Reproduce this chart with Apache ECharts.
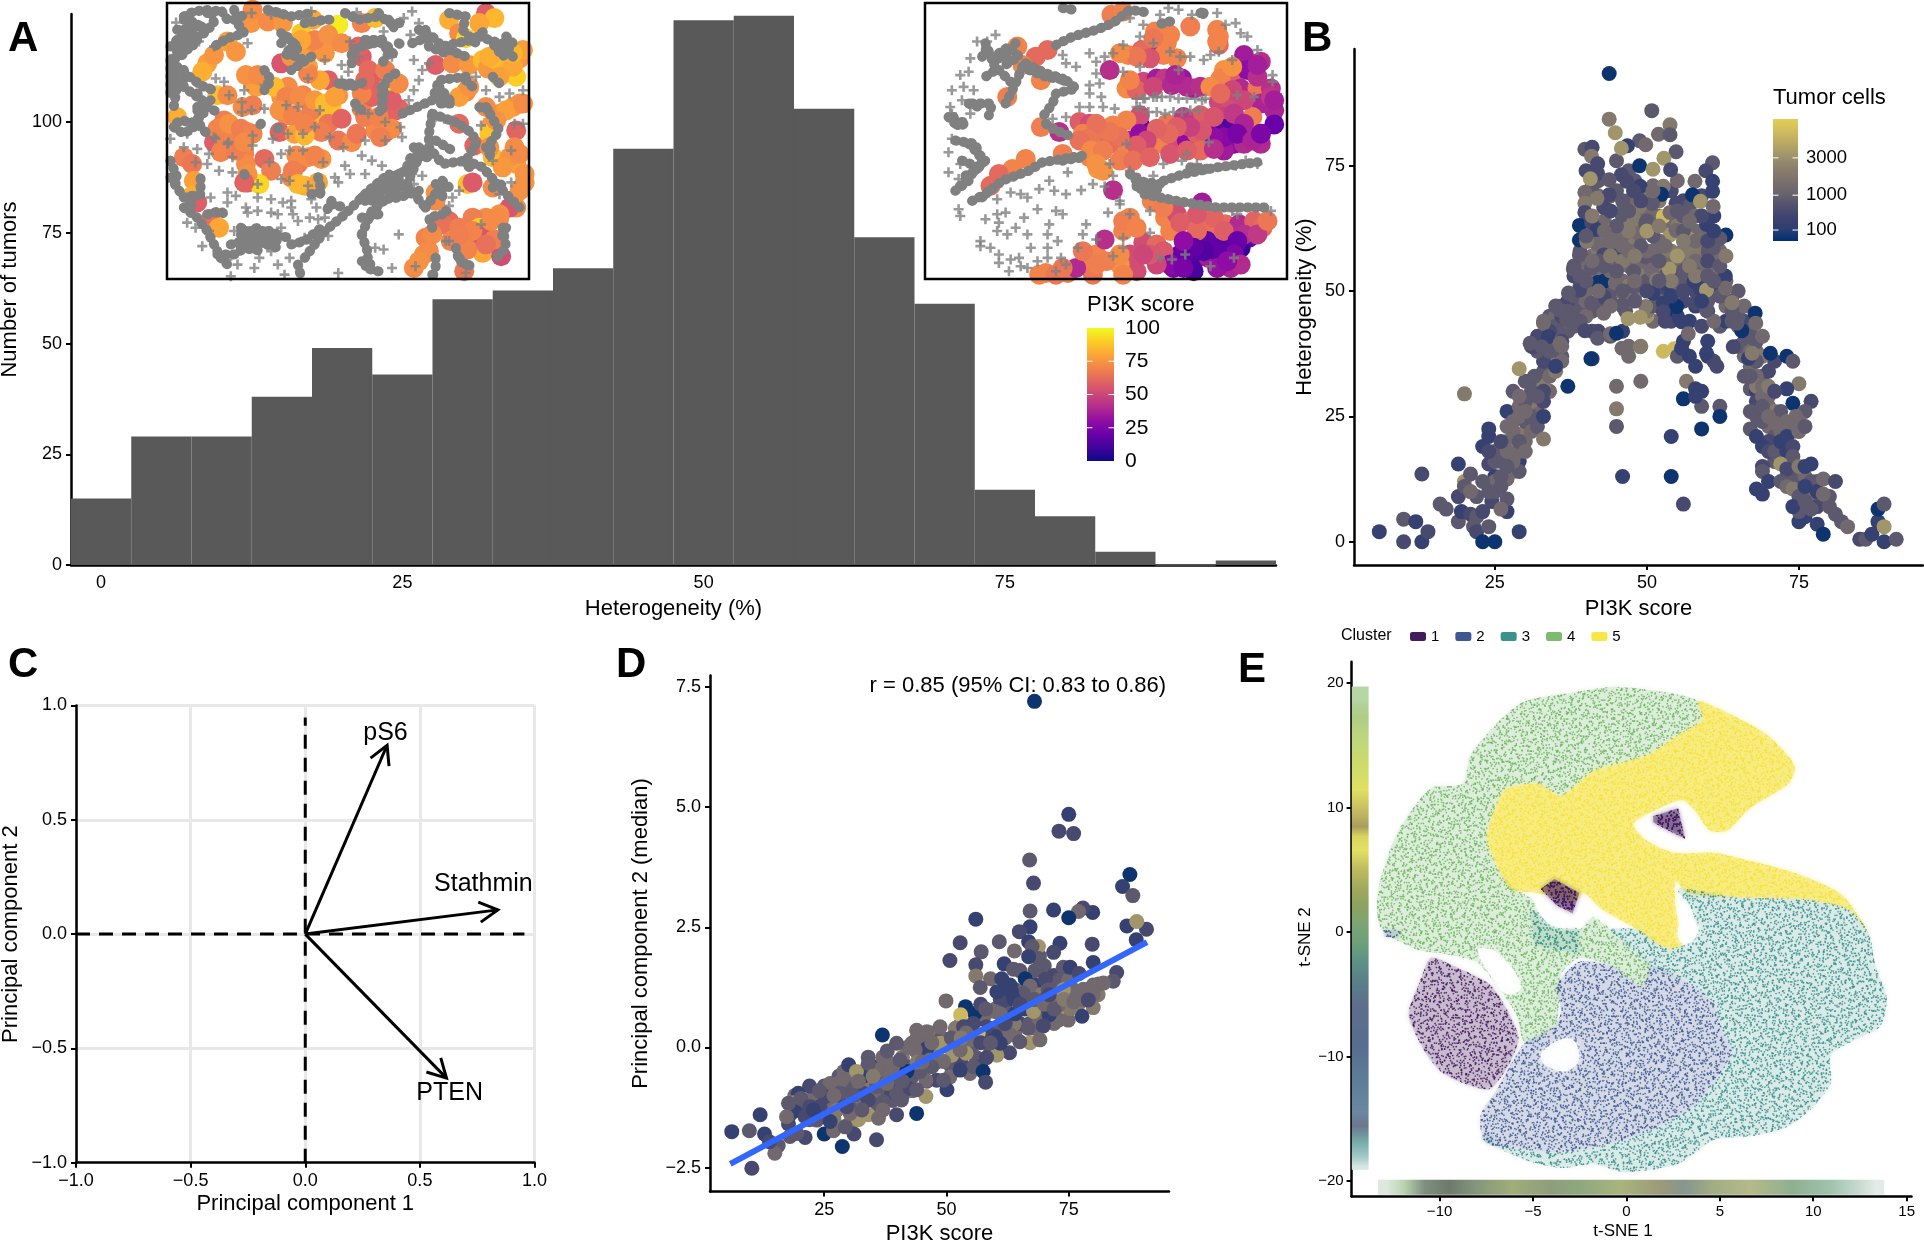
<!DOCTYPE html>
<html><head><meta charset="utf-8">
<style>html,body{margin:0;padding:0;background:#fff}#c{width:1924px;height:1244px}</style>
<script src="https://cdn.jsdelivr.net/npm/echarts@6/dist/echarts.min.js"></script>
</head><body><div id="c"></div>
<script>
// ---- Panel A histogram
const histBins=[0,5,10,15,20,25,30,35,40,45,50,55,60,65,70,75,80,85,90,95];
const histCounts=[15,29,29,38,49,43,60,62,67,94,123,124,103,74,59,17,11,3,0,1];
const countTicks=[0,25,50,75,100];
// ---- Inset 1 (hand-read, spatial units of the picture)
const inset1Chains=[
[[60,50],[90,35],[140,30],[150,70],[120,100],[80,120],[40,150],[30,200],[40,260],[30,320]],
[[210,30],[220,70],[240,100],[190,115],[150,140]],[[100,120],[70,130],[60,110]],
[[40,200],[90,240],[120,260],[150,270]],[[100,320],[120,340],[80,370],[60,360],[30,370]],
[[140,300],[100,330],[110,380],[130,400]],[[350,130],[370,110],[400,150],[380,170],[360,160],[400,130]],
[[310,30],[380,50],[440,40]],[[420,70],[480,60],[510,60]],[[640,40],[670,70],[720,70]],
[[420,770],[480,690],[540,640],[610,570],[670,520],[720,560],[760,470],[740,430]],
[[590,700],[620,630],[680,580],[720,550],[780,620]],[[400,790],[410,830]],[[590,700],[610,760],[600,800],[640,810]],
[[230,700],[280,680],[340,720],[260,730],[230,720]],[[160,760],[210,760],[260,730]],
[[60,620],[100,650],[130,690],[160,750]],[[20,530],[60,590],[110,580],[110,530]],
[[800,340],[880,370],[920,400],[930,430],[900,480],[830,490],[790,440],[790,400],[800,340]],
[[820,260],[860,310],[820,310],[820,260]],[[900,230],[820,240],[800,300],[710,340]],
[[760,90],[800,110],[830,140],[870,130],[920,120],[960,90]],[[850,40],[900,50],[890,90],[930,130]],
[[1020,110],[1040,130],[1010,170],[980,130]],[[650,120],[670,160],[650,190]],[[690,220],[660,240],[650,330]],
[[900,480],[950,500],[1020,580],[1060,620]],[[780,620],[830,550],[830,590]],[[1010,680],[1020,740],[990,770]],
[[880,770],[900,790]],[[980,560],[1010,550]],[[960,320],[1000,390],[970,430],[980,460]],[[530,250],[570,250]],
[[500,610],[540,620]],[[460,530],[470,570],[460,590]],[[240,520],[250,540]],[[600,120],[650,120]],
[[290,370],[285,375]],[[340,385],[345,380]],[[515,480],[515,482]],[[700,130],[720,140]],
[[20,140],[60,100],[100,110],[70,150],[40,180]],[[60,60],[100,70],[130,110]],[[130,40],[170,30],[190,60]],[[210,60],[250,40]],
[[20,180],[20,280]],[[60,210],[60,260],[100,290]],[[100,280],[130,320],[170,340]],[[30,380],[60,400],[90,380]],[[20,480],[40,530],[30,570]],[[70,590],[90,630]],
[[350,100],[400,140],[370,160],[420,180]],[[540,40],[580,60],[640,50]],[[670,60],[690,90]],[[780,90],[790,140],[840,160]],[[740,130],[790,110]],
[[560,190],[560,150],[620,130]],[[600,130],[660,130],[690,170]],[[650,260],[650,320],[640,340]],[[520,250],[560,260],[610,240]],[[570,310],[600,340]],[[440,170],[380,210]],[[300,210],[320,240],[300,270]],[[130,640],[170,630],[190,650]],
[[230,680],[290,720],[350,690]],[[200,730],[300,700],[380,710]],[[380,730],[420,720],[470,680]],[[170,770],[200,800]],[[500,600],[480,640]],[[440,580],[480,570]],
[[590,590],[660,540],[720,510],[740,460]],[[620,600],[700,590],[760,570]],[[590,650],[640,640]],[[590,780],[620,790]],[[800,680],[790,650],[830,640]],[[840,630],[860,640]],[[1020,680],[1000,720]],[[870,740],[880,780],[930,800]],[[810,770],[810,800]],[[800,820],[820,820]],
[[810,550],[840,560]],[[830,540],[850,560]],[[910,500],[880,470]],[[960,440],[980,480]],[[810,420],[860,450]],[[900,240],[930,270]],[[980,230],[1010,260]],[[1010,130],[1040,170]],[[850,150],[900,170]],[[940,110],[1000,130]],[[940,320],[970,330]],
[[240,690],[330,690]],[[240,710],[340,740]],[[230,740],[300,750]],[[600,600],[690,550]],[[640,580],[710,530]],[[700,520],[740,500]],[[40,90],[120,80]],[[40,120],[100,140]],[[760,440],[790,470],[740,470]]];
const inset1Plus=[[37,68],[262,40],[320,45],[345,40],[440,35],[575,38],[715,55],[740,35],[760,70],[655,95],[735,105],[105,125],[150,140],[30,165],[250,130],[480,180],[555,125],[530,195],[550,215],[680,170],[745,180],[790,190],[770,210],[760,240],[745,270],[730,300],[930,230],[960,270],[1000,290],[1030,280],[1070,270],[990,240],[155,235],[180,245],[110,260],[135,265],[240,270],[300,255],[430,235],[530,240],[233,305],[233,335],[262,330],[300,325],[400,320],[465,330],[365,315],[575,330],[610,340],[660,365],[705,380],[710,410],[800,360],[835,355],[860,360],[945,375],[1045,370],[1070,370],[20,415],[70,400],[155,415],[190,430],[265,405],[265,435],[325,415],[370,400],[415,400],[450,380],[495,410],[535,440],[600,420],[660,420],[350,460],[375,450],[415,450],[100,445],[60,440],[135,460],[205,470],[205,515],[165,510],[130,490],[95,485],[315,485],[280,550],[350,535],[375,540],[430,555],[475,485],[510,530],[540,495],[590,465],[620,480],[650,495],[555,520],[520,545],[600,520],[740,520],[770,525],[745,550],[860,590],[880,570],[850,615],[980,480],[1035,450],[1035,545],[1000,580],[90,595],[140,590],[190,575],[215,585],[190,605],[245,620],[280,590],[320,595],[355,605],[380,600],[380,620],[440,595],[455,620],[435,650],[460,655],[480,650],[340,640],[320,635],[280,630],[250,635],[70,665],[95,680],[115,735],[135,690],[210,690],[350,680],[385,640],[400,660],[190,775],[220,790],[270,800],[285,770],[320,750],[375,770],[340,790],[420,710],[450,720],[490,705],[630,740],[655,745],[680,800],[700,700],[520,815],[360,820],[200,825],[330,725],[840,720],[850,720],[750,795],[945,670],[900,815],[195,285],[580,170],[150,410],[193,425]];
const inset1Cells=[[130,190,78],[115,215,82],[150,165,75],[190,125,78],[215,155,75],[260,70,75],[265,30,72],[310,65,72],[355,70,75],[410,100,88],[445,60,80],[520,75,97],[590,70,70],[630,55,85],[590,170,58],[610,210,62],[630,250,58],[665,265,90],[680,235,68],[690,330,57],[670,340,60],[640,375,68],[660,395,62],[630,390,72],[590,325,70],[350,190,55],[490,240,58],[440,150,72],[480,160,75],[430,200,78],[490,130,75],[380,170,74],[370,260,72],[350,290,74],[365,345,72],[415,285,70],[430,360,72],[465,335,85],[500,320,87],[520,285,74],[490,370,66],[530,355,60],[470,395,68],[520,420,66],[560,425,72],[575,400,66],[345,395,60],[390,400,78],[420,405,84],[260,235,75],[275,260,78],[160,285,86],[190,285,72],[235,320,72],[265,315,68],[180,360,68],[210,390,70],[250,395,75],[150,425,58],[170,455,70],[240,460,70],[245,490,72],[220,430,70],[60,470,68],[85,490,66],[90,540,78],[85,585,82],[100,605,58],[40,350,82],[300,475,62],[320,510,68],[250,545,58],[285,550,92],[400,490,66],[430,470,72],[470,475,74],[380,530,72],[420,555,82],[140,655,64],[165,680,80],[810,575,74],[810,195,58],[850,60,82],[880,100,72],[900,115,92],[960,40,58],[985,55,84],[940,70,80],[860,190,72],[910,195,76],[950,180,85],[965,205,76],[1010,210,78],[1050,230,90],[1060,175,75],[900,275,72],[880,370,62],[925,435,60],[1040,320,76],[1000,340,74],[975,375,76],[970,400,88],[1050,390,60],[1045,440,72],[980,470,85],[1050,490,78],[1075,545,74],[905,550,86],[920,545,57],[980,560,72],[1050,620,72],[1030,620,55],[1000,640,74],[960,650,72],[920,650,68],[940,680,90],[850,660,62],[830,670,64],[880,680,68],[780,710,70],[775,760,74],[745,800,72],[855,720,70],[910,720,62],[945,700,55],[950,755,80],[1005,765,52],[985,715,68],[895,810,66],
[265,245,78],[245,225,74],[280,225,72],[330,260,85],[365,290,70],[345,330,74],[385,345,70],[405,290,72],[440,330,68],[420,370,70],[450,300,76],[480,310,85],[510,290,78],[465,240,80],[430,220,70],[415,175,78],[450,120,70],[490,105,74],[530,130,72],[410,120,80],[620,290,60],[590,280,70],[600,350,68],[640,350,70],[680,385,72],[645,410,68],[700,325,60],[680,300,58],[580,140,60],[600,240,62],[660,210,68],[700,250,72],[160,385,70],[195,370,74],[230,385,68],[265,400,70],[180,430,70],[215,450,68],[240,425,72],[250,520,74],[240,545,60],[395,465,72],[385,510,68],[450,465,70],[460,545,80],[400,550,84],[990,180,84],[970,170,82],[1040,200,80],[1070,150,78],[1040,160,84],[1000,230,78],[880,290,78],[910,260,74],[1060,310,74],[1020,330,78],[990,360,74],[1070,310,72],[960,320,72],[970,440,74],[1030,470,74],[1060,460,72],[1010,500,76],[1075,520,74],[1060,570,74],[800,700,72],[790,750,72],[760,780,74],[920,690,70],[905,745,70],[960,730,64],[880,700,68],[810,600,72],[1000,650,72],[975,660,72]];
// ---- Inset 2
const inset2Chains=[[[420,25],[450,30]],[[400,135],[450,110],[520,90],[570,70],[620,30],[680,40]],[[830,40],[850,30]],
[[190,130],[210,180],[250,170],[280,130]],[[210,170],[220,210],[190,230]],[[300,200],[280,250],[250,310]],[[150,310],[210,310],[200,345]],
[[320,210],[370,230],[430,240],[460,265],[400,280],[390,310],[360,350]],[[95,350],[110,380],[135,365]],
[[100,420],[160,430],[180,490],[140,530],[100,570]],[[120,480],[170,500]],[[150,600],[190,580],[240,540],[320,510],[360,485],[480,465]],
[[370,370],[400,390],[450,410]],[[710,550],[640,540],[660,580],[760,600],[880,620],[960,620],[1030,620]],
[[720,540],[780,520],[880,500],[1000,485]],[[640,530],[640,570]],
[[965,125],[966,126]],[[770,395],[771,396]],[[655,770],[656,771]],[[930,790],[931,791]],[[560,715],[561,716]],[[1035,675],[1036,676]],[[740,65],[700,75]],[[280,490],[281,491]],[[570,395],[571,396]],[[815,60],[816,61]],
[[230,160],[260,140],[290,170],[240,200]],[[310,190],[370,220],[420,235]],[[400,230],[440,250]],[[80,350],[100,370],[140,360]],[[140,430],[190,480],[160,510],[120,530]],[[100,570],[140,540]],[[180,590],[200,570]],[[420,480],[480,470]],[[620,520],[660,560],[720,570]],[[800,500],[860,505]],[[840,40],[830,60]],[[140,310],[170,320]],[[180,170],[200,130]],[[230,210],[270,250]]];
const inset2Plus=[[640,295],[665,295],[690,290],[715,290],[740,290],[765,295],[790,295],[815,295],[835,300],[650,320],[675,335],[700,335],[725,340],[750,335],[775,335],[800,330],[825,330],[165,125],[195,125],[220,105],[145,175],[140,215],[115,225],[125,260],[90,270],[155,270],[120,300],[85,320],[90,340],[145,340],[90,415],[80,455],[115,490],[80,515],[110,535],[110,625],[115,645],[190,655],[225,640],[250,635],[230,665],[280,680],[255,700],[225,690],[175,720],[175,735],[205,740],[230,760],[230,785],[265,775],[260,810],[290,770],[295,795],[315,800],[325,740],[315,700],[305,650],[345,625],[350,565],[265,575],[295,580],[225,595],[315,590],[380,540],[395,570],[430,580],[475,568],[510,550],[435,515],[545,557],[590,610],[555,635],[400,630],[420,640],[380,670],[375,700],[405,720],[375,740],[375,770],[345,780],[415,770],[430,790],[400,810],[490,670],[480,700],[465,740],[520,715],[600,710],[600,740],[680,695],[570,765],[710,770],[745,775],[785,760],[860,795],[930,770],[420,165],[430,190],[460,200],[500,160],[520,185],[545,170],[600,135],[650,110],[690,130],[570,160],[520,220],[500,255],[530,250],[535,290],[500,280],[470,320],[500,320],[430,350],[390,355],[540,320],[575,325],[600,215],[650,200],[710,45],[735,25],[765,30],[805,45],[880,40],[660,75],[620,55],[905,75],[935,70],[950,100],[970,110],[1000,150],[860,165],[800,170],[770,170],[740,155],[765,210],[840,180],[885,155],[925,180],[1045,225],[1045,245],[990,290],[940,285],[845,295],[700,290],[660,295],[640,320],[610,430],[855,425],[790,460],[775,480],[820,490],[935,495],[965,480],[1000,490],[925,630],[940,640],[1040,630],[620,640],[680,630],[620,510],[560,490],[570,525],[690,525],[720,490],[590,600]];
const inset2Cells=[[565,45,68],[600,35,70],[695,95,70],[740,105,70],[800,80,68],[885,110,70],[885,135,62],[705,130,38],[615,165,70],[655,150,62],[720,165,70],[760,175,70],[680,175,55],[960,165,35],[1010,185,42],[560,210,42],[610,265,72],[660,245,50],[700,235,35],[725,235,45],[775,235,32],[810,265,35],[900,210,74],[925,235,58],[880,255,70],[950,265,40],[1000,265,66],[1040,265,42],[970,210,30],[885,305,50],[920,305,52],[1010,310,38],[1050,330,38],[985,350,68],[900,350,48],[830,345,58],[780,350,45],[730,370,66],[650,375,18],[650,345,52],[610,360,70],[570,375,70],[470,365,58],[500,370,52],[355,380,68],[410,395,42],[480,400,70],[510,425,76],[530,395,66],[560,430,62],[620,420,40],[650,400,30],[610,455,70],[650,460,52],[690,420,66],[720,430,70],[760,420,52],[790,420,30],[820,400,58],[830,450,62],[880,395,22],[905,385,15],[930,430,30],[960,430,40],[1010,400,32],[1050,372,20],[1010,430,40],[900,450,35],[500,470,70],[525,505,76],[310,475,70],[270,505,70],[230,520,62],[205,555,62],[420,460,68],[375,150,62],[340,170,62],[285,140,70],[300,195,70],[355,240,70],[255,290,68],[570,568,42],[835,605,35],[685,600,70],[725,650,70],[760,640,52],[800,660,64],[850,680,64],[905,670,62],[945,670,40],[990,660,60],[1015,680,62],[620,670,70],[600,690,70],[740,690,70],[660,725,52],[975,710,20],[950,740,8],[900,730,15],[850,720,18],[800,720,20],[770,760,20],[820,770,15],[870,770,28],[750,800,25],[810,810,12],[920,800,38],[855,770,35],[700,730,62],[720,750,56],[620,760,52],[640,810,52],[590,790,74],[520,760,70],[490,780,70],[510,820,66],[545,715,42],[435,815,66],[370,815,70],[460,800,40],
[730,130,70],[690,115,66],[640,170,66],[590,160,72],[880,90,70],[880,125,70],[640,270,60],[620,240,70],[690,260,50],[745,255,40],[790,260,40],[755,225,38],[830,260,42],[890,235,70],[925,200,74],[860,260,72],[960,300,50],[1000,230,42],[1040,290,45],[1050,300,36],[1000,195,36],[925,270,50],[890,280,62],[870,350,55],[930,340,45],[960,370,38],[900,410,28],[940,400,24],[985,420,38],[1010,400,25],[870,410,30],[870,445,42],[835,390,55],[800,380,48],[760,380,58],[735,400,62],[700,385,60],[670,420,50],[640,435,58],[590,410,64],[560,395,66],[520,370,64],[495,415,66],[470,420,64],[505,450,72],[540,450,68],[590,480,68],[630,480,64],[680,470,60],[740,460,55],[790,450,58],[520,490,74],[540,510,74],[620,650,70],[600,660,68],[640,680,70],[720,620,68],[770,665,58],[820,690,62],[870,650,60],[900,690,58],[820,640,56],[960,700,42],[1000,700,45],[1030,660,66],[940,720,20],[930,760,25],[880,750,18],[840,750,14],[810,740,18],[780,720,30],[740,790,28],[780,800,24],[880,800,32],[950,790,40],[910,780,30],[700,790,50],[680,760,56],[660,760,50],[600,820,70],[520,790,68],[480,750,66],[550,780,68],[590,760,72],[420,800,66],[350,820,70],[400,820,66]];
const plasma=['#0D0887','#41049D','#6A00A8','#8F0DA4','#B12A90','#CC4778','#E16462','#F2844B','#FCA636','#FCCE25','#F0F921'];
const pi3kLegendTicks=[0,25,50,75,100];
// ---- Panel B: [PI3K score, heterogeneity, tumor-cell level index]
const tumorLevels=[30,200,450,800,1300,2000,3200,5000];
const tumorLegendTicks=[100,1000,3000];
const cividisLike=['#00306F','#2D3E70','#3F446F','#55526D','#6B656D','#7C726C','#8B806C','#A0946B','#B9A864','#D0BC5E','#E3CE55'];
const scoreTicks=[25,50,75];
const heteroTicks=[0,25,50,75];
const panelB=[[6,2,1],[10,4.5,3],[10,0,2],[12,4,1],[13,0,1],[14,2,2],[13,13.5,2],[16,7.5,3],[17,6.5,3],[19,4,3],[19.5,6,1],[19,9,2],[20,12,6],[19,15.5,1],[21,13.5,3],[20,11,3],[21,5.5,2],[22,5,3],[21.5,3,3],[22,2,2],[23,0,0],[25,0,0],[24,3,3],[23,6,2],[24.5,8,2],[25,10,3],[27,6,1],[27,8.5,3],[26,6.5,4],[29,2,1],[23,19,1],[24,15.5,2],[25,16,3],[25,13,1],[26,16,3],[28,14,5],[29,16,1],[29,14,3],[27,12.5,4],[25,12,4],[24,21,1],[24,22.5,1],[20,29.5,5],[27,26,1],
[27,20,4],[28,18,5],[28,24,4],[30,22,5],[30,24,3],[31,27,4],[32,27,4],[32,31,3],[33,33,4],[34,30,4],[34,35,5],[35,37,5],[35,39,4],[36,42,3],[36,37,3],[37,42,3],[37,44,4],[38,46,3],[38,43,3],[39,47,3],[39,49,4],[34,45,3],[35,45,4],[36,47,3],[37,48,2],[30,20,4],[29,18,4],[28,16,4],[27,15,3],[26,13,3],[26,11,3],[25,18,3],[24,18,2],[22,9,3],[21,10,4],[23,12,3],[24,10,3],[31,28,5],[32,33,4],[33,31,5],[33,34,3],[36,36,4],[30,32,3],[29,27,4],[27,23,4],
[28,22,4],[29,20,3],[30,18,4],[27,18,4],[26,20,2],[29,25,4],[31,22,4],[31,25,3],[32,23,3],[33,25,1],[33,20.5,5],[31,30,3],[30,28,3],[28,30,3],[29,29,4],[30,26,4],[33,28,2],[33,30,2],[32,29,3],[34,33,4],[33,36,2],[32,38,3],[29,34.5,6],[31.5,33,3],[35,34,5],[37,31,0],[35,35,1],[34,38,3],[33,40,3],[32,41,2],[31,39,3],[35,43,3],[34,42,2],[33,44,4],[36,45,2],[35,47,3],[37,46,3],[38,49,3],[36,40,2],[36,39,4],[41,36.5,1],[45,31,4],[45,26.5,5],[45,23,3],[49,32,4],[54,21,1],[59,22.5,0],[46,13,1],[54,13,0],[56,7.5,2],[47,37,4],[47,39,4],[49,39,5],[54.5,38.5,7],[42,42,2],[44,41,3],[46,42,1],[46.5,46,3],[56,40,1],[55,37,3],[57,37,1],[58,35,1],[60,37,1],[60,40,1],[61,36,2],[61.5,35,2],[56.5,32,5],[58,30.5,1],[59,30,1],[59,27,3],[56,28.5,0],[62,27,3],[62,25,0],[58,29,1],[62,43,3],[63,44,1],[67,30.5,3],[68,30,1],[68,28,2],[69,33,3],[70,34,2],[71,36,2],[73,37,0],[74,36,3],[75,31.5,5],[73,30.5,1],[74,27.6,0],[77,28,2],[76,26,3],[74.5,25,4],
[63,47,4],[64,44,3],[65,43,4],[66,40,3],[66,37,4],[67,35,4],[68,33,4],[68,31,5],[69,31,4],[69,29,4],[70,29,4],[70,27,4],[70,23,4],[71,26,5],[71,21,3],[72,22,4],[72,19,3],[71,16,3],[72,17,4],[73,16,5],[73,13,3],[74,13,3],[75,12,3],[76,13,4],[76,10,3],[77,12,3],[77,9,4],[78,12,3],[79,8,5],[67,39,3],[68,38,4],[69,37,5],[70,31,5],[67,33,3],[65,39,3],[66,33,3],[67,26,3],[68,25,3],[69,24,3],[71,30,2],[72,26,3],[73,24,4],[74,22,4],
[67,22.5,3],[69,27,3],[70,25,4],[71,23.7,4],[70,20,2],[68,21,1],[69,19,1],[70,18,2],[71,18,3],[72,20,1],[73,21,1],[73,18,1],[74,19,2],[75,22,4],[75,24,4],[76,23,3],[74,17,3],[72,15.5,6],[73,14.5,2],[75,15,5],[76,15,1],[77,15.5,1],[69,15,2],[69,14,3],[70,12,1],[68,10.5,1],[69,9.5,1],[72,12,3],[73,11,4],[74,10.5,5],[75,9,3],[76,11,1],[78,10,1],[79,12.5,4],[81,12,2],[80,9,3],[78,7,2],[80,7,3],[81,5.5,3],[82,4,3],[83,3,4],[75,4,1],[76,5,1],[78,3.5,1],[79,1.5,0],[75,6,3],[74,7,1],[85,0.5,2],[86,0.5,3],[87,1.5,1],[88,4,1],[88,6.5,0],[89,7.5,3],[89,3,6],[89,0,1],[91,0.5,3],[79,9.5,4],[77,6.5,3],[76,8,3],[67,38,4],[68,36,3],[67,42,3],[68,40,3],[66,44,2],[69,41,4],[65,45,3],[66,47,4],[64,48,3],[65,50,3],[63,52,4],[64,46,3],
[41,60,4],[42,61,5],[43,64,4],[44,62,5],[45,61,4],[46,63,5],[47,60,5],[48,62,4],[49,65,5],[50,66,4],[51,63,4],[52,65,4],[53,63,5],[54,64,4],[55,63,5],[56,65,3],[57,62,5],[58,62,4],[59,60,5],[60,61,4],[61,59,3],[62,58,4],[41,57,4],[42,58,5],[43,59,4],[44,56,4],[45,58,5],[46,57,5],[47,55,4],[48,55,5],[49,56,4],[50,55,4],[51,56,3],[52,54,5],[53,57,5],[54,56,4],[55,54,4],[56,56,5],[57,58,5],[58,58,4],[59,58,5],[60,58,3],[61,57,4],[62,53,4],[40,56,3],[39,55,4],[38,55,3],[39,58,3],[40,50,4],[41,53,5],[42,54,4],[43,51,4],[44,52,5],[45,50,5],[46,52,4],[47,51,5],[48,50,4],[49,53,5],[50,52,3],[51,54,5],[52,50,2],[53,53,3],[54,54,4],[55,53,2],[56,52,3],[57,53,4],[58,54,3],[59,52,3],[60,51,4],[61,50,2],[62,49,3],[42,69,4],[43,67,5],[44,69,4],[45,70,3],[46,66,4],[47,68,4],[48,72,3],[49,70,2],[50,69,5],[51,71,4],[52,68,5],[53,70,3],[54,70,2],[55,72,4],[56,68,2],[57,67,3],[58,65,4],[59,69,2],[60,64,3],[61,65,1],[41,71,3],[40,74,2],[42,72,3],[47,74,3],[45,76,3],[46,47,3],[51,44,4],[47,48,4],[44,50,3],[42,47,3],
[39,51,3],[38,53,2],[40,48,4],[41,46,3],[40,45,4],[39,44,3],[41,42,2],[43,52,0],[44,48,3],[48,49,5],[52,48,4],[50,45,6],[50,46,5],[54,44,2],[55,45,1],[57,44,1],[59,43,2],[60,46,2],[56,48,2],[58,47,1],[60,48,3],[61,44,4],[58,50,2],[55,50,4],[53,46,0],[53,44,2],[51,47,3],
[43.8,93.4,0],[50.8,86,3],[43.8,84.3,5],[53.8,83.2,5],[44.8,81.6,6],[51.9,81.3,4],[53.8,81.2,3],[48.8,80,3],[49.8,79.2,4],[46.8,79,1],[45.8,78.5,6],[54.8,77.8,3],[39.8,78.3,3],[41,78.7,2],[40.9,76.9,5],[52.8,76.5,6],[48.8,75,0],[60.8,75.6,3],[51,74.3,6],[53.9,74.2,2],[41.9,75.4,2],[41.9,73.5,2],[40.7,72.4,6],[59.7,74,2],[57.9,71.9,4],[60.8,71.9,1],[60.8,69.9,1],[45.8,73.2,2],[43.8,72.2,3],[52.7,70.9,5],[52.4,69.3,0],[57.5,69.2,0],[54.8,67.5,2],[58.8,67.9,6],[39.8,69.7,4],[39.8,67.5,5],[42.9,66.7,2],[43.8,69.2,2],[41.8,68.5,5],[48.9,70.9,1],[47.8,70,2],[46.7,71.9,2],[60.9,66.9,4],[52.7,64.9,7],[53.8,65.7,4],[48.8,66.9,5],[50.9,67.5,3],[45.9,65.2,3],[39.8,65.7,2],[38.9,63.1,0],[38.9,60.2,0],[40.9,63.6,2],[41.8,62.2,1],[47.9,64.3,5],[49.8,63.5,3],[45.9,60.9,4],[48.9,61.1,4],[53.8,61.2,6],[54.8,62.1,4],[56.8,60.5,6],[59.8,63.3,1],[63,61.2,0],[62,60.5,3],[60.9,58.6,3],[51.6,58.6,4],[41.8,59.4,4],[44,59.6,4],[40.1,59.9,5],[38.9,57.2,3],[44.9,57,2],[47.8,56.6,4],[49.8,56.8,3],[42.9,57.2,2],[56,58.2,5],[57.7,58.2,5],[55.7,55.2,4],[50.8,54.2,4],[53.7,54.4,6],[37.9,54.4,3],[39,52.9,3],[40.9,54.6,3],[41.9,51.7,0],[44.8,51.6,4],[47.8,53.9,3],[51.6,52.2,5],[53.3,51.4,1],[55.2,51.9,3],[57.7,51.9,1],[62.9,53,1],[59.8,54.2,4],[62.9,50.6,4],[58.8,50.6,1],[59.8,50.2,6],[38.9,50.2,2],[37.1,49.6,3],[42.9,48.9,2],[40.9,47.6,3],[45.9,47.2,3],[47.9,50.9,3],[51,49.6,1],[49.8,46.9,5],[52.7,47.6,1],[54.9,46.9,0],[57.9,47.6,2],[42.9,45.6,4],[46.9,44.5,6],[48.9,44.8,6],[52.7,45.9,2],[55.7,43.9,1],[59.8,46.2,3],[64,47.7,5],[67.8,45.6,0],[35.7,46.2,3],[36.8,44.2,3],[65.6,42.1,0],[67.9,43.6,4],[33,43.6,4],[33.8,40.9,1],[35.7,39.6,4],[31.3,38.9,2],[32.7,38.9,3],[39.8,42.1,2],[41.9,40.6,3],[44,41.5,4],[45,41.6,0],[56.8,41.5,4],[52.7,38,7],[48.9,38.9,5],[45.9,38.6,4],[55.7,38.6,1],[59.8,37.6,1],[40.8,36.5,0],[66.7,36.6,1],[70.3,37.6,0],[67.3,37.6,5],[64.8,43.6,3],[64.2,38.9,2],[30.8,39.6,3],
[44,66,2],[46,68,3],[47,62,5],[50,64,3],[52,60,4],[54,58,5],[56,62,3],[58,60,4],[60,60,2],[61,62,1],[59,65,2],[57,64,4],[55,66,3],[51,70,4],[49,68,2],[47,66,3],[45,63,3],[43,62,4],[41,65,5],[40,61,3],[42,56,3],[44,54,4],[46,56,5],[48,52,4],[50,58,4],[52,56,3],[54,52,5],[56,54,3],[58,56,4],[60,56,2],[62,55,3],[61,52,3],[59,48,1],[57,55,5],[55,57,6],[53,59,4],[51,61,3],[49,59,3],[47,58,4],[45,54,3],[43,55,3],[41,56,4],[40,52,3],[42,50,4],[44,47,4],[46,50,3],[48,48,3],[50,50,2],[52,52,3],[54,49,1],[56,50,2],[58,53,5],[60,53,3],[63,57,5],[50,62,6],[52,63,5],[48,57,5],[46,59,4],[44,57,5],[56,60,5]];
// ---- Panel C loadings
const loadingNames=['pS6','Stathmin','PTEN'];
const loadingPC1=[0.357,0.84,0.616];
const loadingPC2=[0.826,0.106,-0.63];
const labelPC1=[0.35,0.777,0.63];
const labelPC2=[0.878,0.22,-0.695];
const unitTicks=[-1,-0.5,0,0.5,1];
// ---- Panel D: [PI3K score, PC2 median, tumor-cell level index]
const pcTicks=[-2.5,0,2.5,5,7.5];
const fitLineX=[5.8,91];
const fitLineY=[-2.42,2.19];
const panelD=[[18,-1.4,3],[19,-1,4],[20,-1.3,2],[21,-1.1,3],[22,-1.5,3],[23,-1,4],[24,-1.3,2],[25,-.8,3],[25,-1.3,3],[26,-1.2,4],[27,-.8,3],[27,-1.5,5],[28,-1.1,4],[28,-.6,3],[29,-.5,4],[29,-1.2,2],[30,-.9,3],[30,-1.6,5],[31,-.7,4],[31,-1.3,3],[32,-.9,4],[32,-1.5,6],[33,-.5,3],[33,-1.2,4],[34,-.7,5],[34,-.2,3],[35,-1,3],[35,-.4,2],[36,-.9,4],[36,-1.2,3],[37,-.6,3],[37,-.2,4],[38,-.9,3],[38,-.3,4],[39,-.6,2],[39,-1.1,3],[40,-.5,4],[40,-.8,3],[41,-.2,5],[41,-1,2],[42,-.4,3],[42,0,4],[43,-.6,3],[43,-.9,4],[44,-.1,3],[44,.2,4],[45,-.5,5],[45,-.2,3],[46,.1,4],[46,-.7,3],[47,-.2,4],[47,.3,5],[48,-.3,3],[48,0,5],[49,.2,3],[50,-.3,4],[51,-.4,3],[51,.1,4],[52,0,5],[52,.3,4],[53,-.3,2],[53,.5,3],[54,.1,4],[55,-.1,3],[55,.3,5],[56,-.2,3],[56,.6,4],[57,.3,3],[57,-.4,2],[58,.2,2],[58,.7,4],[59,-.1,3],[60,.4,2],[60,.8,4],[61,.4,3],[62,.2,4],[62,.9,2],[63,.7,3],[64,.3,4],[64,1.2,2],[65,.5,2],[65,1,4],[66,.8,1],[66,1.2,4],[67,.5,3],[67,1,3],[68,.4,4],[68,1.3,1],[69,.6,4],[69,1.1,5],[70,1,3],[71,.9,3],[71,1.4,4],[72,1.1,5],[72,.5,4],[73,1.3,4],[74,.7,6],[75,1,3],[76,1.2,4],[77,.9,5],[78,1,4],[79,1.2,5],[80,1.3,4],[81,1.1,5],[70,1.7,3],[69,1.9,3],[72,1.5,2],[73,1.4,3],[75,1.4,4],[65,1.6,3],[63,1.3,1],[62,1.2,1],[61,1,2],
[68,7.2,0],[75,4.85,1],[73,4.5,2],[76,4.45,2],[67,3.9,3],[67.8,3.42,2],[87.5,3.6,0],[86,3.35,1],[88.1,3.16,3],[67.1,2.84,3],[71.9,2.86,1],[79.9,2.81,1],[77.9,2.9,2],[77,2.83,4],[75,2.7,0],[56,2.67,1],[67.1,2.51,1],[64.9,2.41,2],[86.9,2.53,1],[88.8,2.24,1],[90.9,2.46,2],[88.9,2.62,6],[50.7,1.81,2],[52.8,2.18,2],[57.1,1.99,3],[60.8,2.2,3],[63.9,2.01,4],[66.8,2.2,1],[68.8,2.1,6],[67.5,2.1,3],[68.8,1.85,3],[66.8,1.89,1],[73.2,2.17,1],[71.9,1.98,2],[79.8,2.15,2],[80,1.77,1],[61.8,1.74,1],[49.9,.97,4],[53.9,.85,0],[55.8,.71,0],[52.9,.68,7],[57,.9,2],
[48.7,.43,4],[49,.09,4],[51.8,.4,5],[42.9,.09,4],[46,-.02,1],[36.9,.26,0],[39.8,.09,3],[37.9,-.07,3],[43.9,.36,4],[46,.33,4],[56,1.72,2],[56,1.49,5],[59,1.43,4],[56.9,1.25,3],[63.7,1.63,3],[68.1,1.6,3],[61.3,1.43,1],[66.1,1.43,0],[73.9,1.67,3],[75.3,1.67,1],[77.1,1.54,2],[84.8,1.56,2],[84.1,1.38,3],[81.1,1.32,4],[82.1,1.34,4],[78,1.21,4],[80,1.09,4],[80,.83,5],[77.7,.65,1],[79,.99,2],[74.9,.57,4],[72.9,.57,4],[75.3,.81,5],[73.9,1.2,6],[72.9,.88,4],[70.2,1.42,2],[67.1,1.28,4],[65.7,1.13,3],[63.3,1.16,1],[60.3,1.16,1],[63.7,1.02,1],[70.8,1.2,3],[69.1,.88,1],[59.9,.75,4],[67.8,.75,6],[71,.68,1],[69.8,.45,2],[63.9,.49,5],[63,.26,4],[67.1,.1,6],[69.1,.16,4],[66.7,.4,3],[65,.12,3],[62.9,-.11,2],[60.3,-.16,6],[58.2,-.21,2],[61,.09,1],[60,.23,1],[58.2,.43,2],[56.5,.3,7],[55.2,.16,4],[55.5,.5,2],[51.1,-.16,6],[54,-.12,6],[52.8,-.05,4],[50.1,.16,4],[53.5,.43,2],[48.7,.09,6],[46.6,-.26,4],[49.4,-.29,4],[48,-.68,2],[50.7,-.61,4],[50.1,-.88,1],[45.8,-.68,4],[44.6,-.5,3],[41.9,-.5,0],[43.6,-.05,4],[54.8,-.54,4],[55.5,-.4,3],[57.5,-.5,0],[58,-.72,2],[52.8,-.47,1],[49.4,-.68,3],[42.2,-.85,2],[38.8,-.92,2],[40.8,-1.09,3],[45.8,-1.02,6],[43.9,-1.37,0],[39.8,-1.4,2],[35.7,-1.92,2],[31.1,-1.8,2],[28.7,-2.06,0],[25,-1.8,0],[26.9,-1.73,4],[21.1,-1.87,2],[15.6,-2.04,3],[14.9,-2.2,4],[10.2,-2.51,2],[9.7,-1.73,3],[11.9,-1.4,1],[6.1,-1.75,1],[12.8,-1.8,1],[13.8,-1.96,2],[36.1,-.47,4],[33.1,-.59,1],[30,-.36,1],[29.3,-.81,3],[26.2,-1.06,4],[22,-.8,2],[19.7,-.95,1],[18.7,-1.15,6],[18.9,-1.32,1],[17.7,-1.16,3],[20.2,-1.06,3],[17.7,-1.59,2],[19.4,-1.79,3],[18,-1.85,3],[22.1,-1.23,2],[24.1,-1.23,2],[23.5,-1.51,3],[26.2,-.75,4],[28.6,-.68,4],[31.6,-.5,6],[34,-.33,3],[34,-1.09,2],[37.1,-1.13,3],[37,-1.3,4],[34,-1.4,6],[36.1,-1.47,4],[39.8,-.95,3],[38.5,-.54,4],[40.5,-.26,3],[43.9,-.88,3],[29.3,-1.65,3],[27.6,-1.3,5],[30.3,-1.37,4],[32.7,-1.3,3],[26.2,-1.54,1],[28.2,-.95,3],[29.6,-1.23,2],[33,-.95,2],[35.7,-.81,3],[37.8,-.75,4],[21.1,-1.44,2],[22.8,-1.3,1],[17.3,-1.44,4],[25.2,-1.02,2],[24,-.9,3],[27,-1,4],[31,-1,3],[32,-.7,4],[35,-.6,5],[41,-.7,3],[44,-.3,5],[47,.1,4],[51,.2,3],[54,.3,4],[57,.1,2],[59,.1,3],[62,.5,2],[64,.7,1],[65,.9,2],[68,1.0,3],[70,.9,4],[71,1.1,2],[72,.8,3],[74,1.0,5],[76,.95,4],[61,.7,4],[58,.8,3],[53,.2,5],[47,-.4,3],[45,-.3,4]];
// ---- Panel E: cluster regions in t-SNE units; the ~50k cells themselves are represented by a stipple fill
const region4=[[3.85,18.54],[2.28,19.19],[-.6,19.68],[-3,19.19],[-5.41,18.54],[-6.61,17.24],[-7.81,15.29],[-8.41,13.99],[-8.77,11.88],[-10.46,11.56],[-12.14,8.31],[-12.86,5.71],[-13.34,2.79],[-13.1,.19],[-11.18,-1.43],[-9.74,-1.75],[-8.05,-2.4],[-7.09,-4.03],[-5.89,-6.62],[-5.41,-8.9],[-3.85,-7.6],[-3.61,-5.65],[-3.49,-3.38],[-2.52,-2.08],[-.84,-2.73],[.84,-4.35],[1.32,-2.73],[.36,-1.43],[-.84,.19],[-1.8,1.17],[-2.52,.19],[-4.45,.84],[-4.93,2.47],[-5.89,3.44],[-6.85,5.06],[-7.45,7.66],[-6.85,10.58],[-6.37,11.56],[-4.69,11.88],[-3.49,10.91],[-1.8,12.86],[1.08,14.16],[2.76,15.78],[4.09,17.08]];
const region5=[[3.85,18.54],[5.89,17.24],[7.57,15.78],[9.01,13.34],[8.65,11.88],[6.61,9.94],[5.41,8.15],[4.45,8.15],[3.73,9.61],[3,10.58],[1.32,9.61],[.36,8.64],[1.08,7.34],[2.52,6.36],[4.69,6.36],[6.61,5.71],[9.01,4.74],[11.42,3.12],[12.62,.84],[12.98,-.13],[11.9,1.82],[9.5,2.63],[5.89,2.79],[3.25,3.12],[2.64,4.09],[2.64,1.82],[3,-1.1],[2.04,-1.27],[.6,.19],[-1.32,1.82],[-2.28,3.12],[-2.76,2.47],[-4.69,3.12],[-6.13,3.44],[-6.85,5.06],[-7.45,7.66],[-6.85,10.58],[-6.37,11.56],[-4.69,11.88],[-3.49,10.91],[-1.8,12.86],[1.08,14.16],[2.76,15.78],[4.09,17.08]];
const region3=[[2.76,3.44],[5.89,2.79],[9.5,2.63],[11.9,1.82],[12.98,-.13],[13.34,-2.73],[13.94,-5.32],[13.58,-7.6],[12.38,-8.57],[10.94,-9.87],[10.94,-12.14],[9.98,-14.09],[8.53,-15.71],[6.85,-16.36],[4.69,-16.69],[2.76,-18.64],[-.12,-19.29],[-1.8,-18.64],[-3.49,-18.96],[-5.41,-18.31],[-7.57,-16.85],[-6.13,-17.34],[-3.49,-17.66],[-.12,-16.69],[1.8,-15.55],[3.73,-13.77],[5.41,-10.52],[5.65,-9.55],[5.17,-7.92],[4.45,-5.32],[2.76,-3.7],[1.32,-2.73],[.36,-1.43],[-.84,.19],[.6,.19],[2.04,-1.27],[3,-1.1],[3.73,.19],[3.49,1.82]];
const region3b=[[-5.17,1.82],[-2.52,.19],[-2.52,-1.75],[-4.93,-1.1]];
const region3c=[[-7.8,-16.5],[-7.1,-16.3],[-7.1,-17],[-7.5,-17]];
const region2=[[-3.49,-6.3],[-3.73,-4.35],[-2.52,-2.4],[-.84,-2.73],[.84,-4.35],[1.32,-2.73],[2.76,-3.7],[4.45,-5.32],[5.17,-7.92],[5.65,-9.55],[5.41,-10.52],[3.73,-13.77],[1.8,-15.55],[-.12,-16.69],[-3.49,-17.66],[-6.13,-17.34],[-7.57,-16.85],[-7.81,-14.74],[-6.85,-12.47],[-5.89,-9.87],[-5.41,-8.9],[-3.85,-7.6]];
const region2b=[[-13,.2],[-12.1,.1],[-12.2,-.5],[-13,-.4]];
const region1=[[-10.46,-2.08],[-9.25,-2.73],[-7.33,-4.19],[-6.37,-6.3],[-5.77,-8.57],[-6.37,-10.84],[-7.33,-12.63],[-8.77,-12.14],[-9.98,-11.17],[-10.94,-9.22],[-11.66,-6.62],[-11.06,-4.03]];
const region1b=[[1.44,9.29],[2.76,9.94],[3.13,7.5],[2.04,8.31],[1.44,8.8]];
const region1c=[[-4.57,3.44],[-3.85,4.25],[-2.52,3.12],[-2.88,1.49],[-3.73,2.14]];
const holes=[[[2.76,.19],[3.25,1],[3.85,.36],[3.61,-.62],[3,-.94]],[[-4.81,2.63],[-3.49,1.98],[-2.52,1.66],[-2.4,.68],[-3.73,.36],[-4.57,1.33]],[[-4.45,-9.55],[-3,-8.57],[-2.52,-10.19],[-3.25,-11.17],[-4.45,-10.52]],[[-7.93,-1.43],[-6.85,-1.75],[-5.65,-4.35],[-6.37,-5],[-7.33,-3.38]]];
const clusterNames=['1','2','3','4','5'];
const clusterColors=['#431A5B','#3F5790','#3B918C','#6FB562','#F5E23A'];
const clusterKeyColors=['#431A5B','#3F5790','#3B918C','#7CBC6C','#F8E646'];
const clusterWash=[.16,.12,.1,.13,.4];
const tsneXTicks=[-10,-5,0,5,10,15];
const tsneYTicks=[-20,-10,0,10,20];
const rugYEdges=[19.7,17.8,16.75,14.9,13,9.8,9,7.9,7.4,5.8,4.45,2.85,1.5,.17,-1.7,-2.5,-4.64,-7.3,-11.05,-13.7,-15.3,-15.9,-17.7,-18.55,-19.1];
const rugYColors=['#B5D6A5','#AFCB84','#BCD580','#C9D96E','#E0E062','#BFB361','#A79D5C','#D8D55E','#E3E162','#BFBE5D','#A4AA5D','#8EA35E','#7FA472','#6FA07A','#5F9584','#5B8388','#5F6D8C','#586D90','#5F8098','#6A87A0','#6D7890','#74AAA7','#A6CBC8','#D5E6E4'];
const rugXEdges=[-13.3,-12.4,-11.4,-10.2,-8.8,-7.3,-4.9,-3.25,-1.8,1.1,2.5,3.7,5.4,7.8,10,11.9,12.9,13.8];
const rugXColors=['#DDE9DD','#B9D3B0','#7F8F7E','#6E7A6C','#84967C','#A0AE78','#8E9E7B','#8FA77F','#A8B47E','#9C9B78','#86958F','#A0AD82','#B6B98A','#8DB091','#A2C3AC','#C6D9D0','#E2EBE7'];
const speckle=[[3,7],[14,1],[19,12],[37,6],[41,17],[55,3],[58,21],[72,9],[81,1],[93,13],[9,24],[22,31],[31,19],[47,28],[52,39],[66,16],[74,27],[86,22],[98,29],[1,38],[15,45],[28,43],[35,54],[44,47],[61,33],[69,44],[79,37],[90,46],[6,57],[18,63],[26,58],[39,71],[49,62],[57,51],[64,67],[76,55],[84,64],[96,59],[11,74],[23,82],[33,77],[43,88],[53,79],[67,85],[73,72],[88,78],[94,90],[4,92],[16,97],[29,93],[38,99],[59,94],[70,98],[82,91],[47,8],[12,33],[63,6],[24,72],[91,34],[77,47],[8,84],[54,69],[41,35],[85,8],[34,29],[68,57],[96,75],[20,52],[50,91],[78,83],[2,66],[60,44],[89,55],[30,9],[46,75],[72,64],[13,16],[99,4]];

const FONT='"Liberation Sans", Arial, sans-serif', INK='#000', GRAY='#808080';
const c=echarts.init(document.getElementById('c'));
const lerp=(t,s)=>echarts.color.lerp(Math.max(0,Math.min(1,t)),s);
const plasmaColor=v=>lerp(v/100,plasma);
const tumorColor=lv=>lerp((Math.sqrt(tumorLevels[lv])-3.2)/75.7,cividisLike);
const PLUS='path://M3.7,0H6.3V3.7H10V6.3H6.3V10H3.7V6.3H0V3.7H3.7Z';
const minus=s=>String(s).replace('-','\u2212');
// fixed stipple texture (style only): the typed speckle list drawn under four mirrorings
function tile(color,size,alpha){const k=document.createElement('canvas');k.width=k.height=size;const g=k.getContext('2d');g.fillStyle=color;g.globalAlpha=alpha;
 const dot=(x,y)=>{g.beginPath();g.arc(x/100*size,y/100*size,.85,0,6.3);g.fill();};
 speckle.forEach(p=>{dot(p[0],p[1]);dot(p[1],p[0]);dot(100-p[0],(p[1]+37)%100);dot((p[0]+61)%100,100-p[1]);});return k;}
function ax(gi,min,max,ticks,o){o=o||{};return Object.assign({type:'value',gridIndex:gi,min,max,scale:false,
 axisLine:{show:true,onZero:false,lineStyle:{color:'#000',width:2.5}},
 axisTick:{show:true,length:5,customValues:ticks,lineStyle:{color:'#000',width:2}},
 axisLabel:{show:true,customValues:ticks,color:INK,fontSize:o.fs||18,fontFamily:FONT,margin:o.margin||9,formatter:o.fmt||(v=>minus(v))},
 splitLine:{show:false},nameLocation:'middle',nameGap:o.gap||34,nameTextStyle:{color:INK,fontSize:o.ns||22,fontFamily:FONT}},o.x||{});}
const hidden=(gi,min,max,inv)=>({type:'value',gridIndex:gi,min,max,inverse:!!inv,show:false,splitLine:{show:false}});

const grids=[
 {left:71,top:14,width:1205,height:551},
 {left:167,top:3,width:362,height:276},
 {left:925,top:3,width:362,height:276},
 {left:1087,top:328,width:27,height:133},
 {left:1354,top:49,width:569,height:516},
 {left:1773,top:119,width:25,height:122},
 {left:76,top:705.5,width:458.5,height:457.2},
 {left:710,top:675.4,width:459,height:516.2},
 {left:1351.6,top:661.8,width:559.9,height:534.5}].map(g=>Object.assign(g,{outerBoundsMode:'none'}));
const fmt1=v=>minus(Number(v).toFixed(1));
const xAxes=[
 {type:'category',gridIndex:0,data:histBins.map(String),boundaryGap:true,
  axisLine:{show:true,onZero:false,lineStyle:{color:'#000',width:2.5}},
  axisTick:{alignWithLabel:true,length:5,interval:i=>i%5===0,lineStyle:{color:'#000',width:2}},
  axisLabel:{interval:i=>i%5===0,color:INK,fontSize:18,fontFamily:FONT,margin:9},
  name:'Heterogeneity (%)',nameLocation:'middle',nameGap:33,nameTextStyle:{color:INK,fontSize:22,fontFamily:FONT}},
 hidden(1,10,1088),hidden(2,10,1088),hidden(3,0,1),
 ax(4,1.84,95.4,scoreTicks,{x:{name:'PI3K score'},gap:33}),
 hidden(5,0,1),
 Object.assign(ax(6,-1,1,unitTicks,{fmt:fmt1,gap:30,margin:9,x:{name:'Principal component 1'}}),{splitLine:{show:true,customValues:unitTicks,lineStyle:{color:'#E8E8E8',width:3}}}),
 ax(7,1.65,95.5,scoreTicks,{x:{name:'PI3K score'},gap:31}),
 ax(8,-14.71,15.26,tsneXTicks,{fs:15,margin:8})];
const yAxes=[
 ax(0,0,124.4,countTicks,{gap:46,x:{name:'Number of tumors'}}),
 hidden(1,10,833,true),hidden(2,10,833,true),
 Object.assign(ax(3,0,100,pi3kLegendTicks,{fs:21,margin:11}),{position:'right',axisLine:{show:false},axisTick:{show:false}}),
 ax(4,-4.65,98.3,heteroTicks,{gap:38,x:{name:'Heterogeneity (%)'}}),
 Object.assign(ax(5,3.2,78.9,tumorLegendTicks.map(Math.sqrt),{fs:18.5,margin:8,fmt:v=>Math.round(v*v/100)*100}),{position:'right',axisLine:{show:false},axisTick:{show:false}}),
 Object.assign(ax(6,-1,1,unitTicks,{fmt:fmt1,gap:54,margin:9,x:{name:'Principal component 2'}}),{splitLine:{show:true,customValues:unitTicks,lineStyle:{color:'#E8E8E8',width:3}}}),
 ax(7,-2.997,7.74,pcTicks,{fmt:fmt1,gap:58,x:{name:'Principal component 2 (median)'}}),
 ax(8,-21.23,21.69,tsneYTicks,{fs:15,margin:8})];

const series=[];
series.push({type:'bar',xAxisIndex:0,yAxisIndex:0,data:histCounts,barWidth:'100%',itemStyle:{color:'#595959',borderColor:'#595959',borderWidth:1.6},silent:true});
function inset(i,cells,chains,plus){
 series.push({type:'scatter',xAxisIndex:i,yAxisIndex:i,data:cells,symbolSize:20,clip:true,silent:true,itemStyle:{opacity:1,color:p=>plasmaColor(p.value[2])}});
 chains.forEach(ch=>series.push({type:'line',xAxisIndex:i,yAxisIndex:i,data:ch,showSymbol:false,clip:true,silent:true,lineStyle:{color:GRAY,width:10,cap:'round',join:'round',type:[1,7]}}));
 series.push({type:'scatter',xAxisIndex:i,yAxisIndex:i,data:plus,symbol:PLUS,symbolSize:10,clip:true,silent:true,itemStyle:{color:GRAY}});
}
inset(1,inset1Cells,inset1Chains,inset1Plus);
inset(2,inset2Cells,inset2Chains,inset2Plus);
function colorbar(i,stops,lo,hi,ticks){
 series.push({type:'custom',xAxisIndex:i,yAxisIndex:i,data:[[0,lo,1,hi]],silent:true,z:5,renderItem:(p,api)=>{
  const a=api.coord([0,lo]),b=api.coord([1,hi]);
  const kids=[{type:'rect',shape:{x:a[0],y:b[1],width:b[0]-a[0],height:a[1]-b[1]},
   style:{fill:new echarts.graphic.LinearGradient(0,1,0,0,stops.map((s,k)=>({offset:k/(stops.length-1),color:s})))}}];
  ticks.forEach(t=>{const l=api.coord([0,t]),r=api.coord([1,t]);
   kids.push({type:'line',shape:{x1:l[0],y1:l[1],x2:l[0]+5.5,y2:l[1]},style:{stroke:'#fff',lineWidth:1}});
   kids.push({type:'line',shape:{x1:r[0]-5.5,y1:r[1],x2:r[0],y2:r[1]},style:{stroke:'#fff',lineWidth:1}});});
  return {type:'group',children:kids};}});
}
colorbar(3,plasma,0,100,[25,50,75]);
colorbar(5,cividisLike,3.2,78.9,tumorLegendTicks.map(Math.sqrt));
const tumorScatter=(i,d)=>({type:'scatter',xAxisIndex:i,yAxisIndex:i,data:d,symbolSize:15,silent:true,itemStyle:{opacity:1,color:p=>tumorColor(p.value[2])}});
series.push(tumorScatter(4,panelB));
// Panel C
[[[-1,0],[0.956,0]],[[0,-1],[0,0.948]]].forEach(d=>series.push({type:'line',xAxisIndex:6,yAxisIndex:6,data:d,showSymbol:false,silent:true,lineStyle:{color:'#000',width:3,type:[14,9]}}));
series.push({type:'custom',xAxisIndex:6,yAxisIndex:6,silent:true,z:6,data:loadingNames.map((n,i)=>[loadingPC1[i],loadingPC2[i]]),
 renderItem:(p,api)=>{const o=api.coord([0,0]),e=api.coord([api.value(0),api.value(1)]);const th=Math.atan2(e[1]-o[1],e[0]-o[0]);const L=21,A=.5;
  const st={stroke:'#000',lineWidth:3,fill:null,lineCap:'butt',lineJoin:'miter'};
  return {type:'group',children:[{type:'line',shape:{x1:o[0],y1:o[1],x2:e[0],y2:e[1]},style:st},
   {type:'polyline',shape:{points:[[e[0]-L*Math.cos(th-A),e[1]-L*Math.sin(th-A)],e,[e[0]-L*Math.cos(th+A),e[1]-L*Math.sin(th+A)]]},style:st}]};}});
series.push({type:'scatter',xAxisIndex:6,yAxisIndex:6,silent:true,z:7,symbolSize:1,itemStyle:{color:'transparent'},
 data:loadingNames.map((n,i)=>({name:n,value:[labelPC1[i],labelPC2[i]]})),
 label:{show:true,position:'inside',formatter:'{b}',color:INK,fontSize:25,fontFamily:FONT,textBorderWidth:0,opacity:1}});
// Panel D
series.push(tumorScatter(7,panelD));
series.push({type:'line',xAxisIndex:7,yAxisIndex:7,data:fitLineX.map((x,i)=>[x,fitLineY[i]]),showSymbol:false,silent:true,z:6,lineStyle:{color:'#3366FF',width:6}});
series.push({type:'scatter',xAxisIndex:7,yAxisIndex:7,silent:true,z:7,symbolSize:1,itemStyle:{color:'transparent'},
 data:[{name:'r = 0.85 (95% CI: 0.83 to 0.86)',value:[64.6,7.53]}],label:{show:true,position:'inside',formatter:'{b}',color:INK,fontSize:22,fontFamily:FONT,textBorderWidth:0,opacity:1}});
// Panel E
function cluster(k,polys){const col=clusterColors[k],wash=clusterWash[k];
 const tA=tile(col,90,.85),tB=tile(col,107,.85),tC=tile(col,73,.85);
 series.push({type:'custom',name:clusterNames[k],xAxisIndex:8,yAxisIndex:8,silent:true,itemStyle:{color:clusterKeyColors[k]},data:polys.map((_,i)=>[i]),
  renderItem:(p,api)=>{const pts=polys[p.dataIndex].map(q=>api.coord(q));
   const sm=pts.length>10?.25:0;
   const layer=t=>({type:'polygon',shape:{points:pts,smooth:sm},style:{fill:{image:t,repeat:'repeat'}}});
   return {type:'group',children:[
    {type:'polygon',shape:{points:pts,smooth:sm},style:{fill:col,opacity:wash,shadowBlur:5,shadowColor:col}},
    layer(tA),layer(tB),layer(tC)]};}});}
cluster(3,[region4]);cluster(4,[region5]);cluster(2,[region3,region3b,region3c]);cluster(1,[region2,region2b]);
series.push({type:'custom',xAxisIndex:8,yAxisIndex:8,silent:true,data:holes.map((_,i)=>[i]),
 renderItem:(p,api)=>({type:'polygon',shape:{points:holes[p.dataIndex].map(q=>api.coord(q)),smooth:.4},style:{fill:'#fff',opacity:.88,shadowBlur:6,shadowColor:'#fff'}})});
cluster(0,[region1,region1b,region1c,region1b,region1c,region1b,region1c]);
// marginal rugs as banded gradients through the hand-read band colours
const bandStops=(edges,cols)=>{const a=edges[0],b=edges[edges.length-1];return cols.map((col,i)=>({offset:(((edges[i]+edges[i+1])/2)-a)/(b-a),color:col}));};
series.push({type:'custom',xAxisIndex:8,yAxisIndex:8,silent:true,data:[[0]],
 renderItem:(p,api)=>{const a=api.coord([-14.7,rugYEdges[0]]),b=api.coord([-13.8,rugYEdges[rugYEdges.length-1]]);
  return {type:'rect',shape:{x:a[0],y:a[1],width:b[0]-a[0],height:b[1]-a[1]},style:{fill:new echarts.graphic.LinearGradient(0,0,0,1,bandStops(rugYEdges,rugYColors))}};}});
series.push({type:'custom',xAxisIndex:8,yAxisIndex:8,silent:true,data:[[0]],
 renderItem:(p,api)=>{const a=api.coord([rugXEdges[0],-19.9]),b=api.coord([rugXEdges[rugXEdges.length-1],-21.1]);
  return {type:'rect',shape:{x:a[0],y:a[1],width:b[0]-a[0],height:b[1]-a[1]},style:{fill:new echarts.graphic.LinearGradient(0,0,1,0,bandStops(rugXEdges,rugXColors))}};}});

const T=(text,x,y,size,extra)=>Object.assign({type:'text',x,y,z:50,silent:true,style:{text,fill:INK,font:`${size}px ${FONT}`,verticalAlign:'middle',align:'left'}},extra||{});
const letter=(t,x,y)=>({type:'text',x,y,z:50,silent:true,style:{text:t,fill:'#000',font:`bold 42px ${FONT}`,verticalAlign:'middle',align:'left'}});
const box=(x,w)=>({type:'rect',z:40,silent:true,shape:{x,y:3,width:w,height:276},style:{fill:null,stroke:'#000',lineWidth:2.5}});
const vert=(text,x,y,size)=>({type:'text',x,y,z:50,rotation:Math.PI/2,silent:true,style:{text,fill:INK,font:`${size}px ${FONT}`,verticalAlign:'middle',align:'center'}});
c.setOption({animation:false,textStyle:{fontFamily:FONT},grid:grids,xAxis:xAxes,yAxis:yAxes,series,
 legend:{left:1405,top:624,orient:'horizontal',selectedMode:false,icon:'roundRect',itemWidth:16,itemHeight:9,itemGap:16,textStyle:{color:INK,fontSize:15,fontFamily:FONT},
  data:clusterNames},
 graphic:[box(167,362),box(925,362),
  letter('A',8,39),letter('B',1302,39),letter('C',8,665),letter('D',616,665),letter('E',1238,670),
  T('PI3K score',1087,304.5,22),T('Tumor cells',1773,98,22),T('Cluster',1341,636,16),
  vert('t-SNE 2',1305,937,17),
  {type:'text',x:1623,y:1231,z:50,silent:true,style:{text:'t-SNE 1',fill:INK,font:`17px ${FONT}`,verticalAlign:'middle',align:'center'}}]});
</script></body></html>
